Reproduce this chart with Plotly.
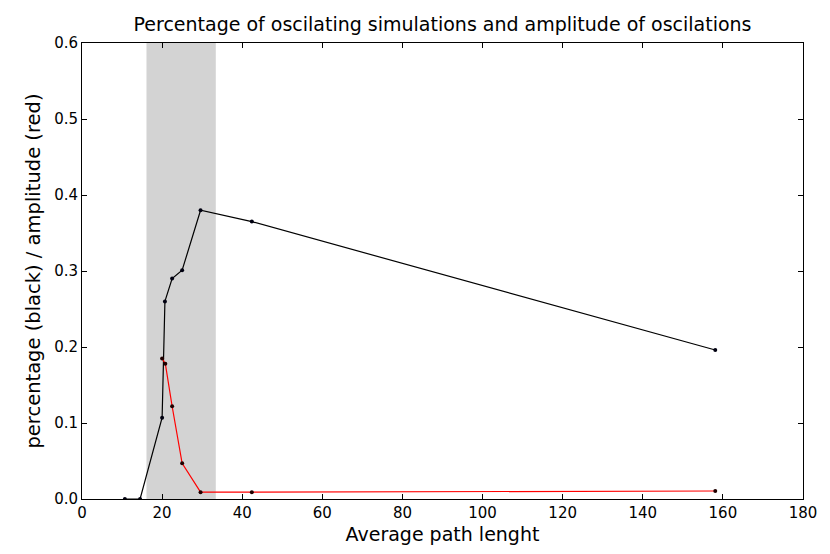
import plotly.graph_objects as go

# Data
path_len_black = [10.7, 14.5, 20.0, 20.7, 22.5, 25.0, 29.6, 42.4, 158.1]
percentage = [0.0, 0.0, 0.107, 0.260, 0.290, 0.301, 0.380, 0.365, 0.196]
path_len_red = [20.0, 20.8, 22.5, 25.0, 29.6, 42.4, 158.1]
amplitude = [0.185, 0.178, 0.122, 0.047, 0.009, 0.009, 0.0105]
shade_range = [16.1, 33.4]

font_family = "DejaVu Sans"

fig = go.Figure()

fig.add_shape(type="rect", xref="x", yref="paper",
              x0=shade_range[0], x1=shade_range[1], y0=0, y1=1,
              fillcolor="#d3d3d3", line=dict(width=0), layer="below")

fig.add_trace(go.Scatter(x=path_len_black, y=percentage, mode="lines+markers",
                         line=dict(color="black", width=1.2),
                         marker=dict(color="#000010", size=4),
                         showlegend=False))
fig.add_trace(go.Scatter(x=path_len_red, y=amplitude, mode="lines+markers",
                         line=dict(color="red", width=1.2),
                         marker=dict(color="#200000", size=4),
                         showlegend=False))

axis_common = dict(showgrid=False, zeroline=False, showline=True, linecolor="black",
                   linewidth=1, mirror="ticks", ticks="inside", ticklen=5,
                   tickcolor="black", tickfont=dict(size=15, color="black", family=font_family))

fig.update_layout(
    width=822, height=546,
    margin=dict(l=74, r=27, t=35, b=55),
    plot_bgcolor="white", paper_bgcolor="white",
    font=dict(family=font_family, color="black"),
    title=dict(text="Percentage of oscilating simulations and amplitude of oscilations",
               x=0.5, xanchor="center", xref="paper",
               y=0.983, yanchor="top", yref="container",
               font=dict(size=19, family=font_family, color="black")),
    xaxis=dict(range=[0, 180], dtick=20, tick0=0,
               title=dict(text="Average path lenght", font=dict(size=19), standoff=6),
               **axis_common),
    yaxis=dict(range=[0, 0.6], dtick=0.1, tick0=0, tickformat=".1f",
               title=dict(text="percentage (black) / amplitude (red)", font=dict(size=19.5), standoff=8),
               **axis_common),
)

fig.write_html("out.html")
